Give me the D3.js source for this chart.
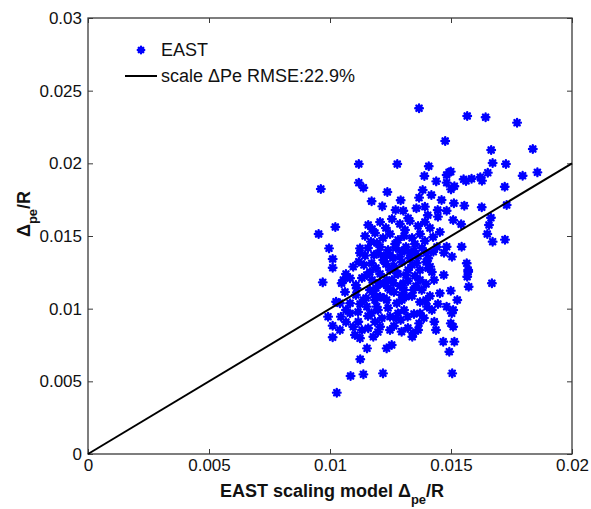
<!DOCTYPE html>
<html>
<head>
<meta charset="utf-8">
<script src="https://cdn.jsdelivr.net/npm/d3@7"></script>
<style>
  html, body { margin: 0; padding: 0; background: #fff; }
  svg { display: block; font-family: "Liberation Sans", Arial, Helvetica, sans-serif; }
</style>
</head>
<body>
<svg id="chart" width="591" height="509"></svg>
<script>
// EAST pedestal width: measured vs. scaling-model prediction
const eastX = [
  0.01368,0.01567,0.01643,0.01773,0.01476,0.01666,0.01838,0.01119,0.01278,0.01408,
  0.01672,0.01727,0.01492,0.01482,0.01390,0.01439,0.01552,0.01585,0.01621,0.01628,
  0.01652,0.01796,0.01857,0.00962,0.01119,0.01138,0.01482,0.01514,0.01500,0.01722,
  0.01237,0.01383,0.01419,0.01368,0.01172,0.01292,0.01461,0.01730,0.01627,0.01555,
  0.01512,0.01216,0.01271,0.01303,0.01357,0.01392,0.01445,0.01482,0.01323,0.01404,
  0.01446,0.01509,0.01542,0.01665,0.01657,0.01158,0.01022,0.00953,0.01650,0.01672,
  0.01723,0.00996,0.01124,0.01169,0.01011,0.01011,0.01145,0.01119,0.00970,0.01055,
  0.01470,0.01544,0.01482,0.01565,0.01571,0.01669,0.01414,0.01406,0.01427,0.01471,
  0.01504,0.01028,0.01085,0.01138,0.01219,0.01505,0.01125,0.01153,0.01234,0.01255,
  0.01493,0.01468,0.01514,0.00992,0.01011,0.01011,0.01041,0.01045,0.01103,0.01124,
  0.01179,0.01207,0.01248,0.01296,0.01340,0.01344,0.01431,0.01499,0.01509,0.01503,
  0.01509,0.01482,0.01526,0.01454,0.01499,0.01573,0.01567,0.01571,0.01397,0.01401,
  0.01372,0.01368,0.01321,0.01314,0.01281,0.01292,0.01248,0.01214,0.01186,0.01172,
  0.01158,0.01117,0.01096,0.01083,0.01083,0.01041,0.01048,0.01025,0.01096,0.01083,
  0.01110,0.01138,0.01193,0.01234,0.01276,0.01296,0.01344,0.01379,0.01372,0.01406,
  0.01358,0.01323,0.01276,0.01234,0.01207,0.01165,0.01152,0.01172,0.01220,0.01248,
  0.01289,0.01330,0.01200,0.01207,0.01248,0.01262,0.01303,0.01186,0.01152,
  0.01207,0.01256,0.01289,0.01330,0.01364,0.01174,0.01231,0.01310,0.01413,0.01392,
  0.01145,0.01186,0.01219,0.01248,0.01281,0.01306,0.01339,0.01372,0.01426,0.01454,
  0.01269,0.01194,0.01351,0.01392,0.01157,0.01207,0.01240,0.01273,0.01314,0.01347,
  0.01380,0.01442,0.01182,0.01223,0.01260,0.01297,0.01330,0.01364,0.01397,0.01124,
  0.01140,0.01190,0.01231,0.01264,0.01297,0.01339,0.01372,0.01421,0.01165,0.01207,
  0.01248,0.01281,0.01314,0.01351,0.01397,0.01132,0.01174,0.01223,0.01256,0.01289,
  0.01322,0.01355,0.01397,0.01430,0.01190,0.01240,0.01306,0.01066,0.01107,0.01062,
  0.01107,0.01149,0.01182,0.01223,0.01264,0.01297,0.01339,0.01372,0.01413,0.01446,
  0.01124,0.01066,0.01116,0.01157,0.01198,0.01240,0.01273,0.01306,0.01347,0.01388,
  0.01421,0.01066,0.01132,0.01198,0.01264,0.01322,0.01364,0.01438,0.01562,0.01499
];
const eastY = [
  0.02379,0.02326,0.02317,0.02280,0.02154,0.02092,0.02099,0.01995,0.01995,0.01980,
  0.02002,0.01995,0.01938,0.01920,0.01913,0.01876,0.01890,0.01894,0.01904,0.01881,
  0.01936,0.01915,0.01938,0.01823,0.01867,0.01832,0.01867,0.01842,0.01821,0.01839,
  0.01803,0.01817,0.01782,0.01764,0.01739,0.01746,0.01748,0.01713,0.01698,0.01709,
  0.01725,0.01704,0.01679,0.01674,0.01691,0.01702,0.01679,0.01674,0.01622,0.01643,
  0.01633,0.01610,0.01581,0.01626,0.01576,0.01576,0.01562,0.01514,0.01514,0.01461,
  0.01475,0.01415,0.01415,0.01461,0.01342,0.01282,0.01365,0.01323,0.01181,0.01197,
  0.01232,0.01426,0.01426,0.01312,0.01254,0.01175,0.01289,0.01347,0.01392,0.01385,
  0.01358,0.00422,0.00537,0.00548,0.00555,0.00555,0.00652,0.00727,0.00727,0.00750,
  0.00704,0.00773,0.00773,0.00945,0.00883,0.00803,0.00853,0.00945,0.00819,0.00796,
  0.00807,0.00876,0.00853,0.00842,0.00807,0.00831,0.00910,0.00899,0.00876,0.00968,
  0.00991,0.01014,0.01060,0.01106,0.01124,0.01151,0.01220,0.01266,0.01060,0.01014,
  0.00968,0.00899,0.00945,0.01082,0.00968,0.00922,0.00945,0.00934,0.00910,0.00968,
  0.00865,0.00910,0.00876,0.00968,0.01037,0.01037,0.01175,0.01048,0.01289,0.01209,
  0.01140,0.01060,0.01014,0.01060,0.01037,0.01094,0.01128,0.01128,0.01197,0.01278,
  0.01312,0.01266,0.01243,0.01197,0.01175,0.01128,0.01232,0.01312,0.01335,0.01369,
  0.01358,0.01381,0.01381,0.01082,0.01128,0.01175,0.01175,0.01060,0.01014,
  0.01596,0.01617,0.01583,0.01603,0.01569,0.01548,0.01555,0.01541,0.01555,0.01596,
  0.01500,0.01521,0.01486,0.01514,0.01473,0.01500,0.01486,0.01514,0.01493,0.01528,
  0.01445,0.01452,0.01445,0.01466,0.01417,0.01424,0.01404,0.01417,0.01424,0.01397,
  0.01417,0.01424,0.01369,0.01362,0.01349,0.01390,0.01349,0.01362,0.01383,0.01383,
  0.01301,0.01280,0.01307,0.01294,0.01321,0.01301,0.01266,0.01252,0.01252,0.01239,
  0.01266,0.01239,0.01232,0.01225,0.01321,0.01211,0.01197,0.01170,0.01197,0.01156,
  0.01190,0.01156,0.01170,0.01197,0.01142,0.01142,0.01128,0.01239,0.01163,0.01115,
  0.01094,0.01073,0.01101,0.01073,0.01115,0.01060,0.01087,0.01046,0.01087,0.01032,
  0.01032,0.00991,0.00977,0.00950,0.00991,0.01005,0.00936,0.00991,0.00963,0.00936,
  0.00991,0.00908,0.00853,0.00839,0.00881,0.00867,0.00853,0.00853,0.01879,0.01943
];

// Scaling-law reference line (prediction = measurement)
const fitX = [0, 0.02];
const fitY = [0, 0.02];

const xTicks = [0, 0.005, 0.01, 0.015, 0.02];
const xTickLabels = ["0", "0.005", "0.01", "0.015", "0.02"];
const yTicks = [0, 0.005, 0.01, 0.015, 0.02, 0.025, 0.03];
const yTickLabels = ["0", "0.005", "0.01", "0.015", "0.02", "0.025", "0.03"];

const seriesName = "EAST";
const fitName = "scale \u0394Pe RMSE:22.9%";

const svg = d3.select("#chart");
const m = { left: 88, right: 19, top: 18, bottom: 55 };
const W = 591, H = 509;
const pw = W - m.left - m.right, ph = H - m.top - m.bottom;

const x = d3.scaleLinear().domain([0, 0.02]).range([m.left, m.left + pw]);
const y = d3.scaleLinear().domain([0, 0.03]).range([m.top + ph, m.top]);

const blue = "#0000ff";
const axisColor = "#3a3a3a";

// Axes box with inward ticks on all four sides
const g = svg.append("g");
const tickLen = 5;

function styleAxis(sel) {
  sel.select(".domain").remove();
  sel.selectAll(".tick line").attr("stroke", axisColor).attr("stroke-width", 1);
  sel.selectAll(".tick text").attr("fill", "#111").style("font-size", "17px")
     .style("font-family", "'Liberation Sans', Arial, sans-serif");
}

const xb = g.append("g").attr("transform", `translate(0,${y(0)})`)
  .call(d3.axisBottom(x).tickValues(xTicks).tickFormat((d, i) => xTickLabels[i])
    .tickSizeInner(-tickLen).tickSizeOuter(0).tickPadding(5));
styleAxis(xb);
xb.selectAll(".tick text").attr("dy", "0.71em");

const xt = g.append("g").attr("transform", `translate(0,${y(0.03)})`)
  .call(d3.axisTop(x).tickValues(xTicks).tickFormat("").tickSizeInner(-tickLen).tickSizeOuter(0));
styleAxis(xt);

const yl = g.append("g").attr("transform", `translate(${x(0)},0)`)
  .call(d3.axisLeft(y).tickValues(yTicks).tickFormat((d, i) => yTickLabels[i])
    .tickSizeInner(-tickLen).tickSizeOuter(0).tickPadding(6));
styleAxis(yl);

const yr = g.append("g").attr("transform", `translate(${x(0.02)},0)`)
  .call(d3.axisRight(y).tickValues(yTicks).tickFormat("").tickSizeInner(-tickLen).tickSizeOuter(0));
styleAxis(yr);

g.append("rect")
  .attr("x", x(0)).attr("y", y(0.03))
  .attr("width", x(0.02) - x(0)).attr("height", y(0) - y(0.03))
  .attr("fill", "none").attr("stroke", axisColor).attr("stroke-width", 1.3);

// Star marker ('*'): plus and cross strokes
function star(sel, r) {
  const d = `M${-r},0L${r},0M0,${-r}L0,${r}` +
            `M${-r*0.7},${-r*0.7}L${r*0.7},${r*0.7}M${-r*0.7},${r*0.7}L${r*0.7},${-r*0.7}`;
  sel.append("path").attr("d", d).attr("stroke", blue).attr("stroke-width", 2.4)
     .attr("stroke-linecap", "round").attr("fill", "none");
}

const pts = eastX.map((v, i) => [v, eastY[i]]);
const ptG = svg.append("g");
ptG.selectAll("g.pt").data(pts).join("g").attr("class", "pt")
  .attr("transform", d => `translate(${x(d[0])},${y(d[1])})`)
  .each(function () { star(d3.select(this), 3.8); });

// Fit line
svg.append("path")
  .datum(fitX.map((v, i) => [v, fitY[i]]))
  .attr("d", d3.line().x(d => x(d[0])).y(d => y(d[1])))
  .attr("stroke", "#000").attr("stroke-width", 2).attr("fill", "none");

// Legend (no frame)
const leg = svg.append("g");
const l1 = leg.append("g").attr("transform", "translate(141,50)");
star(l1, 3.2);
leg.append("text").attr("x", 161).attr("y", 50).attr("dy", "0.35em")
  .style("font-size", "18px").attr("fill", "#111").text(seriesName);
leg.append("line").attr("x1", 125).attr("x2", 157).attr("y1", 76).attr("y2", 76)
  .attr("stroke", "#000").attr("stroke-width", 2);
leg.append("text").attr("x", 161).attr("y", 76).attr("dy", "0.35em")
  .style("font-size", "18px").attr("fill", "#111").text(fitName);

// Axis titles
const xTitle = svg.append("text").attr("x", (x(0) + x(0.02)) / 2 + 2).attr("y", 497)
  .attr("text-anchor", "middle").style("font-size", "18px").style("font-weight", "bold").attr("fill", "#111");
xTitle.append("tspan").text("EAST scaling model \u0394");
xTitle.append("tspan").attr("dy", 7).style("font-size", "13px").text("pe");
xTitle.append("tspan").attr("dy", -7).text("/R");

const yTitle = svg.append("text")
  .attr("transform", `translate(30,${(y(0) + y(0.03)) / 2 - 22}) rotate(-90)`)
  .attr("text-anchor", "middle").style("font-size", "18px").style("font-weight", "bold").attr("fill", "#111");
yTitle.append("tspan").text("\u0394");
yTitle.append("tspan").attr("dy", 7).style("font-size", "13px").text("pe");
yTitle.append("tspan").attr("dy", -7).text("/R");
</script>
</body>
</html>
